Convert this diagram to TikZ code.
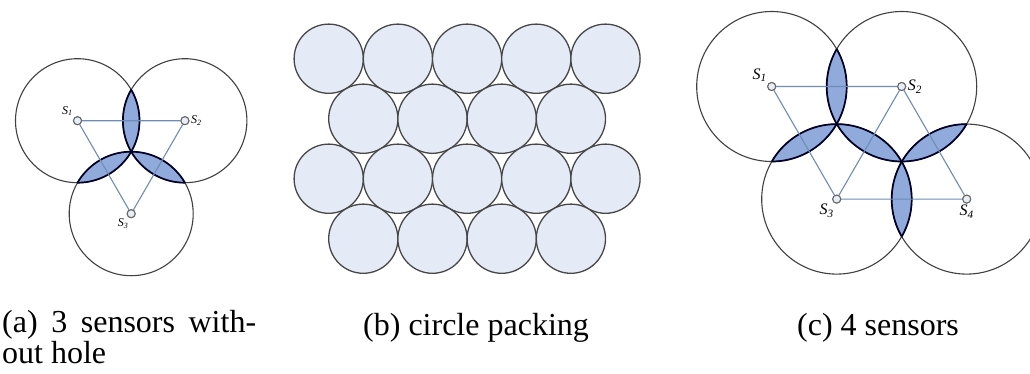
\documentclass[tikz,border=0pt]{standalone}
\usepackage{fontspec}
\setmainfont{Liberation Serif}
\usepackage{tikz}

\definecolor{lensblue}{RGB}{143,170,219}
\definecolor{packblue}{RGB}{228,235,246}
\definecolor{linkblue}{RGB}{110,140,180}
\definecolor{dotfill}{RGB}{232,238,246}

% overlap of two discs of the same radius
\newcommand{\lensfill}[3]{%
  \begin{scope}\clip (#1) circle (#3); \fill[lensblue] (#2) circle (#3);\end{scope}}
\newcommand{\lensrim}[3]{%
  \begin{scope}\clip (#1) circle (#3); \draw[rim] (#2) circle (#3);\end{scope}
  \begin{scope}\clip (#2) circle (#3); \draw[rim] (#1) circle (#3);\end{scope}}

\begin{document}
\begin{tikzpicture}[x=1pt, y=-1pt,
    cover/.style={draw=black!75, line width=1.1pt},
    rim/.style={draw=black!85!blue, line width=1.7pt},
    link/.style={draw=linkblue, line width=1.1pt},
    sensor/.style={circle, draw=black!60, fill=dotfill, line width=1pt, inner sep=0pt, minimum size=8pt},
    lbl/.style={font=\fontsize{12}{12}\selectfont\itshape, inner sep=1.5pt},
    lblc/.style={font=\fontsize{16}{16}\selectfont\itshape, inner sep=1.5pt},
    captext/.style={font=\fontsize{32}{28}\selectfont, inner sep=0pt, anchor=base west, align=left}]
    \useasboundingbox (0,0) rectangle (1030,373);
    \clip (0,0) rectangle (1030,373);

    % (a) three sensors
    \node[sensor, label={[lbl]above left:S\textsubscript{1}}] (a1) at (77.5,120.7) {};
    \node[sensor, label={[lbl]right:S\textsubscript{2}}] (a2) at (184.9,120.7) {};
    \node[sensor, label={[lbl, xshift=2pt]below left:S\textsubscript{3}}] (a3) at (131.2,213.7) {};
    \foreach \p/\q in {a1/a2, a1/a3, a2/a3}
        \lensfill{\p.center}{\q.center}{62pt};
    \foreach \p in {a1, a2, a3}
        \draw[cover] (\p.center) circle (62pt);
    \foreach \p/\q in {a1/a2, a1/a3, a2/a3}
        \lensrim{\p.center}{\q.center}{62pt};
    \draw[link] (a1) -- (a2) (a1) -- (a3) (a2) -- (a3);
    \foreach \p in {a1, a2, a3}
        \node[sensor] at (\p) {};

    % (b) circle packing
    \foreach \row in {0,...,3} {
        \pgfmathtruncatemacro{\odd}{mod(\row,2)}
        \ifnum\odd=0
            \foreach \i in {0,...,4}
                \draw[fill=packblue, draw=black!72, line width=1.3pt] (328.7+69.2*\i, 58.7+60*\row) circle (34.6pt);
        \else
            \foreach \i in {0,...,3}
                \draw[fill=packblue, draw=black!72, line width=1.3pt] (363.3+69.2*\i, 58.7+60*\row) circle (34.6pt);
        \fi
    }

    % (c) four sensors
    \node[sensor, label={[lblc]above left:S\textsubscript{1}}] (c1) at (771.7,86.5) {};
    \node[sensor, label={[lblc]right:S\textsubscript{2}}] (c2) at (901.7,86.5) {};
    \node[sensor, label={[lblc, xshift=2pt]below left:S\textsubscript{3}}] (c3) at (836.7,199.1) {};
    \node[sensor, label={[lblc]below:S\textsubscript{4}}] (c4) at (966.7,199.1) {};
    \foreach \p/\q in {c1/c2, c1/c3, c2/c3, c2/c4, c3/c4}
        \lensfill{\p.center}{\q.center}{75pt};
    \foreach \p in {c1, c2, c3, c4}
        \draw[cover] (\p.center) circle (75pt);
    \foreach \p/\q in {c1/c2, c1/c3, c2/c3, c2/c4, c3/c4}
        \lensrim{\p.center}{\q.center}{75pt};
    \draw[link] (c1) -- (c2) (c1) -- (c3) (c2) -- (c3) (c2) -- (c4) (c3) -- (c4);
    \foreach \p in {c1, c2, c3, c4}
        \node[sensor] at (\p) {};

    % captions (base of a two-line node is its last line)
    \node[captext] (capa) at (2,363) {\makebox[254pt][s]{(a) 3 sensors with-}\\out hole};
    \node[captext] (capb) at (363,335) {(b) circle packing};
    \node[captext] (capc) at (797,335) {(c) 4 sensors};
\end{tikzpicture}
\end{document}
